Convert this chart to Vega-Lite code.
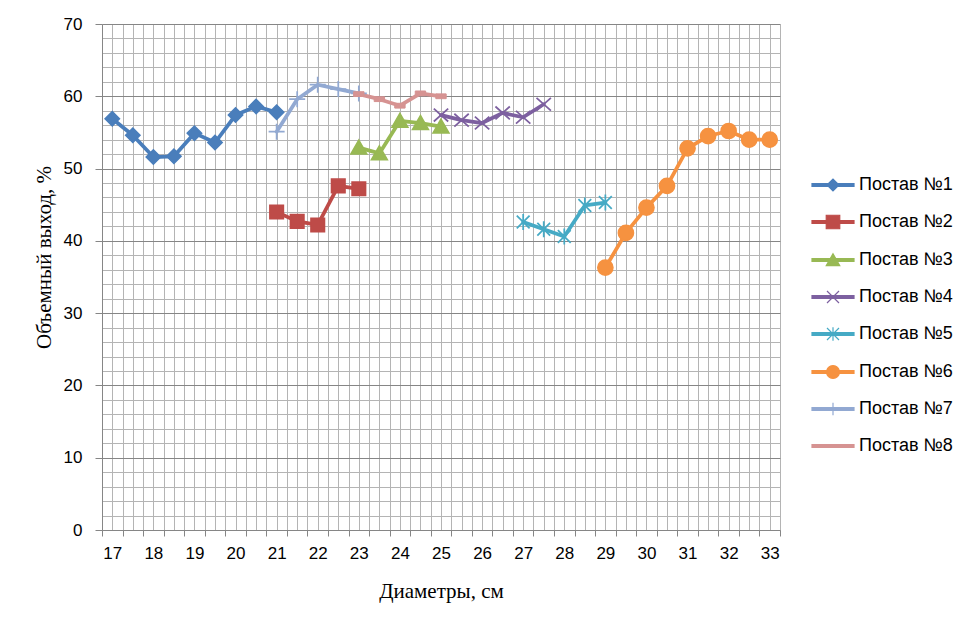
{
  "$schema": "https://vega.github.io/schema/vega-lite/v6.json",
  "width": 678,
  "height": 506,
  "autosize": {"type": "none"},
  "padding": {"left": 102, "top": 24, "right": 196, "bottom": 101},
  "background": "white",
  "config": {
    "view": {"stroke": null},
    "axis": {"labelFont": "Liberation Sans", "labelFontSize": 17, "labelColor": "#000000", "titleFont": "Liberation Serif", "titleFontSize": 21, "titleFontWeight": "normal", "titleColor": "#000000", "domainColor": "#868686", "tickColor": "#868686", "labelOverlap": false, "labelBound": false, "labelFlush": false}
  },
  "data": {
    "values": [
      {"series": "Постав №1", "d": 17, "v": 56.9},
      {"series": "Постав №1", "d": 17.5, "v": 54.6},
      {"series": "Постав №1", "d": 18, "v": 51.6},
      {"series": "Постав №1", "d": 18.5, "v": 51.7},
      {"series": "Постав №1", "d": 19, "v": 54.9},
      {"series": "Постав №1", "d": 19.5, "v": 53.6},
      {"series": "Постав №1", "d": 20, "v": 57.4},
      {"series": "Постав №1", "d": 20.5, "v": 58.6},
      {"series": "Постав №1", "d": 21, "v": 57.8},
      {"series": "Постав №2", "d": 21, "v": 44.0},
      {"series": "Постав №2", "d": 21.5, "v": 42.7},
      {"series": "Постав №2", "d": 22, "v": 42.2},
      {"series": "Постав №2", "d": 22.5, "v": 47.6},
      {"series": "Постав №2", "d": 23, "v": 47.2},
      {"series": "Постав №3", "d": 23, "v": 52.9},
      {"series": "Постав №3", "d": 23.5, "v": 52.1},
      {"series": "Постав №3", "d": 24, "v": 56.6},
      {"series": "Постав №3", "d": 24.5, "v": 56.3},
      {"series": "Постав №3", "d": 25, "v": 55.8},
      {"series": "Постав №4", "d": 25, "v": 57.4},
      {"series": "Постав №4", "d": 25.5, "v": 56.7},
      {"series": "Постав №4", "d": 26, "v": 56.3},
      {"series": "Постав №4", "d": 26.5, "v": 57.7},
      {"series": "Постав №4", "d": 27, "v": 57.1},
      {"series": "Постав №4", "d": 27.5, "v": 58.9},
      {"series": "Постав №5", "d": 27, "v": 42.6},
      {"series": "Постав №5", "d": 27.5, "v": 41.6},
      {"series": "Постав №5", "d": 28, "v": 40.6},
      {"series": "Постав №5", "d": 28.5, "v": 44.9},
      {"series": "Постав №5", "d": 29, "v": 45.3},
      {"series": "Постав №6", "d": 29, "v": 36.3},
      {"series": "Постав №6", "d": 29.5, "v": 41.1},
      {"series": "Постав №6", "d": 30, "v": 44.6},
      {"series": "Постав №6", "d": 30.5, "v": 47.6},
      {"series": "Постав №6", "d": 31, "v": 52.8},
      {"series": "Постав №6", "d": 31.5, "v": 54.5},
      {"series": "Постав №6", "d": 32, "v": 55.2},
      {"series": "Постав №6", "d": 32.5, "v": 54.0},
      {"series": "Постав №6", "d": 33, "v": 54.0},
      {"series": "Постав №7", "d": 21, "v": 55.1},
      {"series": "Постав №7", "d": 21.5, "v": 59.6},
      {"series": "Постав №7", "d": 22, "v": 61.6},
      {"series": "Постав №7", "d": 22.5, "v": 61.0},
      {"series": "Постав №7", "d": 23, "v": 60.4},
      {"series": "Постав №8", "d": 23, "v": 60.3},
      {"series": "Постав №8", "d": 23.5, "v": 59.6},
      {"series": "Постав №8", "d": 24, "v": 58.7},
      {"series": "Постав №8", "d": 24.5, "v": 60.4},
      {"series": "Постав №8", "d": 25, "v": 60.0}
    ]
  },
  "encoding": {
    "x": {
      "field": "d", "type": "quantitative",
      "scale": {"domain": [16.75, 33.25], "nice": false, "zero": false},
      "axis": {
        "title": "Диаметры, см",
        "titleX": 339, "titleY": 67, "titleBaseline": "alphabetic", "titleAnchor": null,
        "values": [16.75,17,17.25,17.5,17.75,18,18.25,18.5,18.75,19,19.25,19.5,19.75,20,20.25,20.5,20.75,21,21.25,21.5,21.75,22,22.25,22.5,22.75,23,23.25,23.5,23.75,24,24.25,24.5,24.75,25,25.25,25.5,25.75,26,26.25,26.5,26.75,27,27.25,27.5,27.75,28,28.25,28.5,28.75,29,29.25,29.5,29.75,30,30.25,30.5,30.75,31,31.25,31.5,31.75,32,32.25,32.5,32.75,33,33.25],
        "labelExpr": "datum.value % 1 === 0 ? format(datum.value, 'd') : ''",
        "grid": true, "gridColor": "#b4b4b4", "gridWidth": 1,
        "tickSize": 6,
        "tickOpacity": {"condition": {"test": "(datum.value - 16.75) % 0.5 === 0", "value": 1}, "value": 0},
        "labelPadding": 9
      }
    },
    "y": {
      "field": "v", "type": "quantitative",
      "scale": {"domain": [0, 70], "nice": false},
      "axis": {
        "title": "Объемный выход, %",
        "titleX": -52, "titleY": 233, "titleBaseline": "alphabetic", "titleAnchor": null,
        "values": [0,2,4,6,8,10,12,14,16,18,20,22,24,26,28,30,32,34,36,38,40,42,44,46,48,50,52,54,56,58,60,62,64,66,68,70],
        "labelExpr": "datum.value % 10 === 0 ? datum.label : ''",
        "grid": true,
        "gridColor": {"condition": {"test": "datum.value % 10 === 0", "value": "#868686"}, "value": "#b4b4b4"},
        "tickSize": 7,
        "tickOpacity": {"condition": {"test": "datum.value % 10 === 0", "value": 1}, "value": 0},
        "labelPadding": 13
      }
    }
  },
  "layer": [
    {
      "mark": {"type": "line", "strokeWidth": 3.75, "strokeJoin": "round", "strokeCap": "round"},
      "encoding": {
        "color": {
          "field": "series", "type": "nominal",
          "scale": {
            "domain": ["Постав №1","Постав №2","Постав №3","Постав №4","Постав №5","Постав №6","Постав №7","Постав №8"],
            "range": ["#4A7EBB","#BE4B48","#98B954","#7D60A0","#46AAC5","#F69240","#92A9D2","#D69392"]
          },
          "legend": {
            "orient": "none", "legendX": 715, "legendY": 145, "title": null, "padding": 0,
            "labelFont": "Liberation Sans", "labelFontSize": 18, "labelColor": "#000000",
            "symbolSize": 900, "rowPadding": 12, "labelOffset": 10,
            "encode": {
              "symbols": {
                "update": {
                  "shape": {"signal": "['M-1.4,-0.09L1.4,-0.09L1.4,0.09L-1.4,0.09ZM-0.4,0L0,-0.4L0.4,0L0,0.4Z', 'M-1.4,-0.09L1.4,-0.09L1.4,0.09L-1.4,0.09ZM-0.45,-0.45L0.45,-0.45L0.45,0.45L-0.45,0.45Z', 'M-1.4,-0.09L1.4,-0.09L1.4,0.09L-1.4,0.09ZM0,-0.42L0.45,0.38L-0.45,0.38Z', 'M-1.4,-0.09L1.4,-0.09L1.4,0.09L-1.4,0.09ZM-0.4,-0.4L0.4,0.4M-0.4,0.4L0.4,-0.4', 'M-1.4,-0.09L1.4,-0.09L1.4,0.09L-1.4,0.09ZM-0.4,-0.4L0.4,0.4M-0.4,0.4L0.4,-0.4M0,-0.45L0,0.45', 'M-1.4,-0.09L1.4,-0.09L1.4,0.09L-1.4,0.09ZM-0.43,0A0.43,0.43,0,1,1,0.43,0A0.43,0.43,0,1,1,-0.43,0Z', 'M-1.4,-0.09L1.4,-0.09L1.4,0.09L-1.4,0.09ZM0,-0.42L0,0.42', 'M-1.4,-0.09L1.4,-0.09L1.4,0.09L-1.4,0.09Z'][indexof(domain('color'), datum.value)]"},
                  "fill": {"scale": "color", "field": "value"},
                  "stroke": {"scale": "color", "field": "value"},
                  "strokeWidth": {"value": 1.2},
                  "opacity": {"value": 1},
                  "fillOpacity": {"value": 1}
                }
              }
            }
          }
        }
      }
    },
    {
      "transform": [{"filter": "datum.series === 'Постав №1'"}],
      "mark": {"type": "point", "filled": true, "size": 256, "strokeWidth": 1.5, "opacity": 1, "fill": "#4A7EBB", "stroke": "#4A7EBB", "shape": "M-0.9,0L0,-0.9L0.9,0L0,0.9Z"}
    },
    {
      "transform": [{"filter": "datum.series === 'Постав №2'"}],
      "mark": {"type": "point", "filled": true, "size": 256, "strokeWidth": 1.5, "opacity": 1, "fill": "#BE4B48", "stroke": "#BE4B48", "shape": "M-0.85,-0.85L0.85,-0.85L0.85,0.85L-0.85,0.85Z"}
    },
    {
      "transform": [{"filter": "datum.series === 'Постав №3'"}],
      "mark": {"type": "point", "filled": true, "size": 256, "strokeWidth": 1.5, "opacity": 1, "fill": "#98B954", "stroke": "#98B954", "shape": "M0,-0.95L1,0.8L-1,0.8Z"}
    },
    {
      "transform": [{"filter": "datum.series === 'Постав №4'"}],
      "mark": {"type": "point", "filled": false, "size": 256, "strokeWidth": 1.75, "opacity": 1, "fill": null, "stroke": "#7D60A0", "shape": "M-0.9,-0.8L0.9,0.8M-0.9,0.8L0.9,-0.8"}
    },
    {
      "transform": [{"filter": "datum.series === 'Постав №5'"}],
      "mark": {"type": "point", "filled": false, "size": 256, "strokeWidth": 1.75, "opacity": 1, "fill": null, "stroke": "#46AAC5", "shape": "M-0.8,-0.8L0.8,0.8M-0.8,0.8L0.8,-0.8M0,-1L0,1"}
    },
    {
      "transform": [{"filter": "datum.series === 'Постав №6'"}],
      "mark": {"type": "point", "filled": true, "size": 256, "strokeWidth": 1.5, "opacity": 1, "fill": "#F69240", "stroke": "#F69240", "shape": "M-0.95,0A0.95,0.95,0,1,1,0.95,0A0.95,0.95,0,1,1,-0.95,0Z"}
    },
    {
      "transform": [{"filter": "datum.series === 'Постав №7'"}],
      "mark": {"type": "point", "filled": false, "size": 256, "strokeWidth": 1.75, "opacity": 1, "fill": null, "stroke": "#92A9D2", "shape": "M-1,0L1,0M0,-1L0,1"}
    },
    {
      "transform": [{"filter": "datum.series === 'Постав №8'"}],
      "mark": {"type": "point", "filled": true, "size": 256, "strokeWidth": 1, "opacity": 1, "fill": "#D69392", "stroke": "#D69392", "shape": "M-0.65,-0.3L0.65,-0.3L0.65,0.3L-0.65,0.3Z"}
    }
  ]
}
